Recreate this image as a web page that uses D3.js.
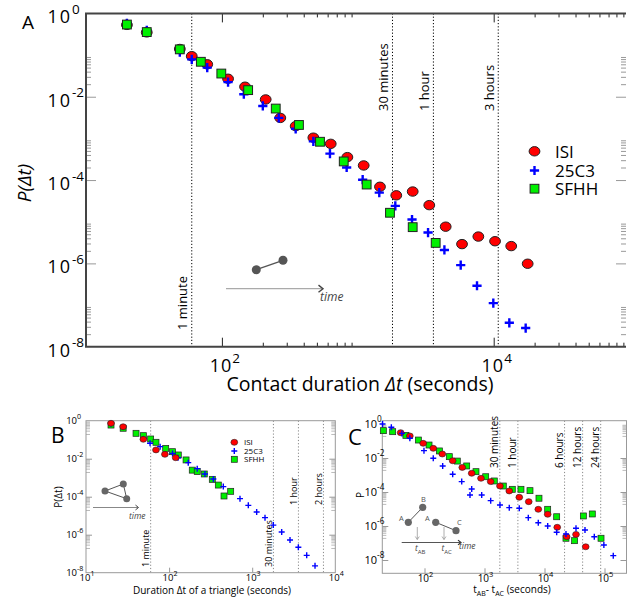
<!doctype html>
<html lang="en">
<head>
<meta charset="utf-8">
<title>Contact and triangle durations</title>
<style>
body { margin: 0; background: #fff; }
svg text { font-family: "Open Sans", "DejaVu Sans", sans-serif; }
</style>
</head>
<body>
<svg id="fig" width="627" height="605"></svg>
<script src="https://d3js.org/d3.v7.min.js"></script>
<script>
// ---- panel A: contact durations (seconds) and P(dt)
var aIsiT = [20, 28, 49, 60, 78, 111, 148, 210, 269, 349, 471, 632, 838, 1105, 1456, 1919, 2535, 3357, 4433, 5847, 7709, 10230, 13460, 17780];
var aIsiP = [0.53, 0.35, 0.14, 0.094, 0.060, 0.027, 0.0174, 0.0086, 0.0031, 0.00197, 0.00104, 7.4e-4, 3.55e-4, 2.24e-4, 6.9e-5, 4.3e-5, 5.3e-5, 2.5e-5, 7.6e-6, 2.9e-6, 4.4e-6, 3.4e-6, 2.6e-6, 9.8e-7];
var a25T = [20, 28, 49, 60, 78, 111, 145, 200, 262, 349, 471, 624, 828, 1086, 1439, 1888, 2506, 3288, 4338, 5718, 7536, 9935, 13030, 17190];
var a25P = [0.58, 0.39, 0.118, 0.079, 0.050, 0.0224, 0.0115, 0.0060, 0.0031, 0.0017, 8.5e-4, 4.3e-4, 2.0e-4, 1.02e-4, 5.0e-5, 2.4e-5, 1.13e-5, 5.5e-6, 2.1e-6, 9.1e-7, 2.9e-7, 1.11e-7, 3.75e-8, 2.8e-8];
var aSfT = [20, 28, 49, 70, 99, 156, 249, 369, 527, 788, 1162, 1725, 2535, 3742];
var aSfP = [0.54, 0.356, 0.137, 0.069, 0.036, 0.0144, 0.0052, 0.0021, 8.3e-4, 2.8e-4, 7.8e-5, 1.64e-5, 7.4e-6, 3.1e-6];
var aLineT = [60, 1800, 3600, 10800];
var aLineLabels = ["1 minute", "30 minutes", "1 hour", "3 hours"];

// ---- panel B: triangle durations
var bIsiT = [20, 28, 49, 69.5, 89, 120];
var bIsiP = [0.73, 0.48, 0.105, 0.029, 0.017, 0.0113];
var b25T = [20, 28, 49, 59, 78, 110, 128, 170, 218, 270, 341, 449, 713, 898, 1132, 1426, 1795, 2264, 2851, 3592, 4527, 5701];
var b25P = [0.70, 0.47, 0.11, 0.065, 0.043, 0.019, 0.0113, 0.0062, 0.0030, 0.00157, 8.6e-4, 3.4e-4, 7.9e-5, 3.5e-5, 1.57e-5, 7.9e-6, 3.2e-6, 1.39e-6, 5.3e-7, 2.2e-7, 8.2e-8, 2.3e-8];
var bSfT = [20, 28, 40, 49, 60, 69.5, 91, 110, 129, 160, 190, 218, 265, 331, 391, 458, 551];
var bSfP = [0.59, 0.40, 0.217, 0.163, 0.109, 0.073, 0.035, 0.0234, 0.0157, 0.0086, 0.0025, 0.0021, 0.00157, 8.2e-4, 4.1e-4, 1.09e-4, 1.92e-4];
var bLineT = [60, 1800, 3600, 7200];
var bLineLabels = ["1 minute", "30 minutes", "1 hour", "2 hours"];

// ---- panel C: t_AB - t_AC
var cIsiT = [40, 57, 95, 140, 198, 295, 426, 612, 874, 1268, 1811, 2588, 3800, 5460, 7880, 11300, 16300, 23400, 33500, 48600];
var cIsiP = [0.31, 0.197, 0.073, 0.037, 0.0172, 0.0069, 0.0028, 0.00126, 6.4e-4, 4.1e-4, 2.25e-4, 1.15e-4, 4.9e-5, 2.7e-5, 9.6e-6, 4.9e-6, 8.4e-7, 2.35e-7, 3.2e-7, 6.0e-8];
var c25T = [20, 28, 42, 57, 98, 140, 201, 295, 417, 612, 573, 898, 1268, 1811, 2588, 3800, 5370, 7880, 11300, 15960, 22800, 33500, 47300, 67600, 97600, 140000];
var c25P = [1.0, 0.64, 0.28, 0.144, 0.027, 0.0096, 0.0034, 0.0011, 4.1e-4, 1.5e-4, 6.6e-5, 6.6e-5, 3.1e-5, 1.73e-5, 1.2e-5, 1.1e-5, 3.1e-6, 1.56e-6, 1.0e-6, 4.3e-7, 3.4e-7, 7.3e-7, 5.8e-7, 2.35e-7, 7.6e-8, 1.8e-8];
var cSfT = [20.6, 29.5, 49, 79, 119, 177, 259, 352, 505, 721, 1047, 1456, 2057, 2906, 4052, 5730, 8090, 11300, 15960, 22800, 31800, 44400, 62600, 87500];
var cSfP = [0.405, 0.353, 0.215, 0.114, 0.058, 0.026, 0.012, 0.0066, 0.0034, 0.00157, 7.9e-4, 4.45e-4, 2.25e-4, 1.44e-4, 1.44e-4, 1.2e-4, 4.3e-5, 9.6e-6, 3.5e-6, 1.9e-7, 1.37e-7, 3.9e-6, 5.1e-6, 1.9e-7];
var cLineT = [1800, 3600, 21600, 43200, 86400];
var cLineLabels = ["30 minutes", "1 hour", "6 hours", "12 hours", "24 hours"];

var seriesNames = ["ISI", "25C3", "SFHH"];

var svg = d3.select("#fig");

var xA = d3.scaleLog().domain([10, 1e5]).range([86, 629.6]);
var yA = d3.scaleLog().domain([1, 1e-8]).range([13.4, 346.7]);
var xB = d3.scaleLog().domain([10, 1e4]).range([86, 335.3]);
var yB = d3.scaleLog().domain([1, 1e-8]).range([420.7, 572.7]);
var xC = d3.scaleLog().domain([100, 1e5]).range([424.5, 604.5]);
var yC = d3.scaleLog().domain([1, 1e-8]).range([424, 560]);

function zip(t, p) { return t.map(function(d, i) { return [d, p[i]]; }); }

function minors(decades) {
  var out = [];
  decades.forEach(function(d) { for (var k = 2; k <= 9; k++) out.push(k * d); });
  return out;
}

function ticks(g, axis, color) {
  g.call(axis);
  g.select(".domain").remove();
  g.selectAll("line").attr("stroke", color);
  g.selectAll("text").remove();
}

function frame(x0, y0, x1, y1, color, w) {
  svg.append("rect").attr("x", x0).attr("y", y0).attr("width", x1 - x0).attr("height", y1 - y0)
    .attr("fill", "none").attr("stroke", color).attr("stroke-width", w);
}

function yPow(x, y, exp, fs, dySup, ls) {
  svg.append("text").attr("x", x).attr("y", y).attr("text-anchor", "end")
    .attr("font-size", fs).attr("letter-spacing", ls || 0).text("10");
  svg.append("text").attr("x", x).attr("y", y - dySup).attr("font-size", fs * 0.75).text(exp);
}

function xPow(x, y, exp, fs, ls) {
  var t = svg.append("text").attr("x", x).attr("y", y).attr("text-anchor", "middle").attr("font-size", fs);
  t.append("tspan").attr("letter-spacing", ls || 0).text("10");
  t.append("tspan").attr("dy", -fs * 0.5).attr("font-size", fs * 0.75).text(exp);
}

function circles(data, x, y, rx, ry, sw) {
  svg.append("g").selectAll("ellipse").data(data).join("ellipse")
    .attr("cx", function(d) { return x(d[0]); }).attr("cy", function(d) { return y(d[1]); })
    .attr("rx", rx).attr("ry", ry).attr("fill", "#ff0000").attr("stroke", "#222").attr("stroke-width", sw);
}
function pluses(data, x, y, s, sw) {
  svg.append("g").selectAll("path").data(data).join("path")
    .attr("transform", function(d) { return "translate(" + x(d[0]) + "," + y(d[1]) + ")"; })
    .attr("d", "M" + (-s) + ",0H" + s + "M0," + (-s) + "V" + s)
    .attr("stroke", "#0000ff").attr("stroke-width", sw).attr("fill", "none");
}
function squares(data, x, y, s, sw) {
  svg.append("g").selectAll("rect").data(data).join("rect")
    .attr("x", function(d) { return x(d[0]) - s / 2; }).attr("y", function(d) { return y(d[1]) - s / 2; })
    .attr("width", s).attr("height", s).attr("fill", "#00f000").attr("stroke", "#222").attr("stroke-width", sw);
}

function vlines(vals, labels, x, y0, y1, color, fs, off, bottoms) {
  var g = svg.append("g");
  vals.forEach(function(v, i) {
    g.append("line").attr("x1", x(v)).attr("x2", x(v)).attr("y1", y0).attr("y2", y1)
      .attr("stroke", color).attr("stroke-width", 1).attr("stroke-dasharray", "1.2,2");
    g.append("text").attr("transform", "translate(" + (x(v) - off) + "," + bottoms[i] + ") rotate(-90)")
      .attr("font-size", fs).text(labels[i]);
  });
}

function arrowHead(x, y, s, color, w) {
  svg.append("path").attr("d", "M" + (x - s) + "," + (y - s * 0.8) + "L" + x + "," + y + "L" + (x - s) + "," + (y + s * 0.8))
    .attr("fill", "none").attr("stroke", color).attr("stroke-width", w);
}
function vArrow(x, y0, y1) {
  svg.append("line").attr("x1", x).attr("x2", x).attr("y1", y0).attr("y2", y1).attr("stroke", "#999").attr("stroke-width", 0.8);
  svg.append("path").attr("d", "M" + (x - 2) + "," + (y1 - 3) + "L" + x + "," + y1 + "L" + (x + 2) + "," + (y1 - 3))
    .attr("fill", "none").attr("stroke", "#999").attr("stroke-width", 0.8);
}

// ================= Panel A =================
(function() {
  var top = yA(1), bot = yA(1e-8), left = xA(10), right = 626;
  vlines(aLineT, aLineLabels, xA, top, bot, "#000", 13, 4.5, [330, 111, 111, 111]);

  ticks(svg.append("g").attr("transform", "translate(0," + bot + ")"),
    d3.axisBottom(xA).tickValues(minors([100, 10000])).tickSize(-4).tickFormat(""), "#222");
  ticks(svg.append("g").attr("transform", "translate(0," + bot + ")"),
    d3.axisBottom(xA).tickValues([100, 10000]).tickSize(-9).tickFormat(""), "#222");
  ticks(svg.append("g").attr("transform", "translate(0," + top + ")"),
    d3.axisTop(xA).tickValues(minors([100, 10000])).tickSize(-4).tickFormat(""), "#222");
  ticks(svg.append("g").attr("transform", "translate(0," + top + ")"),
    d3.axisTop(xA).tickValues([100, 10000]).tickSize(-9).tickFormat(""), "#222");
  [left, right].forEach(function(xx, i) {
    var ax = i === 0 ? d3.axisLeft(yA) : d3.axisRight(yA);
    ticks(svg.append("g").attr("transform", "translate(" + xx + ",0)"),
      ax.tickValues(minors([1e-2, 1e-4, 1e-6, 1e-8])).tickSize(-5).tickFormat(""), "#999");
    ticks(svg.append("g").attr("transform", "translate(" + xx + ",0)"),
      ax.tickValues([1e-2, 1e-4, 1e-6]).tickSize(-10).tickFormat(""), "#999");
  });
  svg.append("path").attr("d", "M" + right + "," + top + "H" + left + "V" + bot + "H" + right)
    .attr("fill", "none").attr("stroke", "#444").attr("stroke-width", 2);

  circles(zip(aIsiT, aIsiP), xA, yA, 5.4, 4.7, 1);
  pluses(zip(a25T, a25P), xA, yA, 4.6, 2.4);
  squares(zip(aSfT, aSfP), xA, yA, 8.8, 1);

  [0, -2, -4, -6, -8].forEach(function(e) {
    yPow(72, yA(Math.pow(10, e)) + 10, e === 0 ? "0" : String(e), 18, 9.5, 2);
  });
  xPow(xA(100) + 3, 372, "2", 18, 1);
  xPow(xA(10000) + 3, 372, "4", 18, 1);

  var xl = svg.append("text").attr("x", 360).attr("y", 391).attr("text-anchor", "middle").attr("font-size", 19.5);
  xl.append("tspan").text("Contact duration ");
  xl.append("tspan").attr("font-style", "italic").text("\u0394t");
  xl.append("tspan").text(" (seconds)");
  svg.append("text").attr("transform", "translate(31,183) rotate(-90)").attr("text-anchor", "middle")
    .attr("font-size", 19).attr("font-style", "italic").text("P(\u0394t)");
  svg.append("text").attr("x", 22).attr("y", 29).attr("font-size", 19).text("A");

  // legend
  var lx = 534.5, ly = [151.3, 170.5, 188.7];
  circles([[xA.invert(lx), yA.invert(ly[0])]], xA, yA, 5.4, 4.7, 1);
  pluses([[xA.invert(lx), yA.invert(ly[1])]], xA, yA, 4.6, 2.4);
  squares([[xA.invert(lx), yA.invert(ly[2])]], xA, yA, 8.8, 1);
  seriesNames.forEach(function(n, i) {
    svg.append("text").attr("x", 555).attr("y", ly[i] + 6.5).attr("font-size", 17).text(n);
  });

  // inset: contact
  svg.append("line").attr("x1", 256.3).attr("y1", 269.7).attr("x2", 283).attr("y2", 260.3).attr("stroke", "#555").attr("stroke-width", 1.4);
  svg.append("circle").attr("cx", 256.3).attr("cy", 269.7).attr("r", 4.5).attr("fill", "#555");
  svg.append("circle").attr("cx", 283).attr("cy", 260.3).attr("r", 4.5).attr("fill", "#555");
  svg.append("line").attr("x1", 226).attr("y1", 288.7).attr("x2", 322).attr("y2", 288.7).attr("stroke", "#aaa").attr("stroke-width", 1.2);
  arrowHead(323, 288.7, 4.5, "#444", 1.4);
  svg.append("text").attr("x", 320).attr("y", 300.5).attr("font-size", 12).attr("font-style", "italic").attr("fill", "#444").text("time");
})();

// ================= Panel B =================
(function() {
  var top = yB(1), bot = yB(1e-8), left = xB(10), right = xB(1e4);
  vlines(bLineT, bLineLabels, xB, top, bot, "#888", 9, 1.5, [567, 567, 505, 505]);
  [left, right].forEach(function(xx, i) {
    var ax = i === 0 ? d3.axisLeft(yB) : d3.axisRight(yB);
    ticks(svg.append("g").attr("transform", "translate(" + xx + ",0)"),
      ax.tickValues(minors([1e-1, 1e-3, 1e-5, 1e-7])).tickSize(-4).tickFormat(""), "#bbb");
    ticks(svg.append("g").attr("transform", "translate(" + xx + ",0)"),
      ax.tickValues([1e-2, 1e-4, 1e-6]).tickSize(-6).tickFormat(""), "#999");
  });
  ticks(svg.append("g").attr("transform", "translate(0," + bot + ")"),
    d3.axisBottom(xB).tickValues([100, 1000]).tickSize(-5).tickFormat(""), "#999");
  frame(left, top, right, bot, "#999", 1);

  squares(zip(bSfT, bSfP), xB, yB, 6, 0.7);
  pluses(zip(b25T, b25P), xB, yB, 3, 1.4);
  circles(zip(bIsiT, bIsiP), xB, yB, 3.4, 3, 0.6);

  [0, -2, -4, -6, -8].forEach(function(e) {
    yPow(77, yB(Math.pow(10, e)) + 3.5, e === 0 ? "0" : String(e), 9.5, 5);
  });
  [1, 2, 3, 4].forEach(function(e) { xPow(xB(Math.pow(10, e)) + 1, 581, String(e), 9.5); });

  var xl = svg.append("text").attr("x", 212).attr("y", 594).attr("text-anchor", "middle").attr("font-size", 10);
  xl.append("tspan").text("Duration \u0394t of a triangle (seconds)");
  svg.append("text").attr("transform", "translate(61.5,497) rotate(-90)").attr("text-anchor", "middle")
    .attr("font-size", 10).text("P(\u0394t)");
  svg.append("text").attr("x", 51).attr("y", 443).attr("font-size", 21).text("B");

  var lx = 234.3, ly = [442.3, 451, 459.3];
  circles([[xB.invert(lx), yB.invert(ly[0])]], xB, yB, 3.4, 3, 0.6);
  pluses([[xB.invert(lx), yB.invert(ly[1])]], xB, yB, 3, 1.4);
  squares([[xB.invert(lx), yB.invert(ly[2])]], xB, yB, 6, 0.7);
  seriesNames.forEach(function(n, i) {
    svg.append("text").attr("x", 244).attr("y", ly[i] + 3).attr("font-size", 8).text(n);
  });

  // inset: triangle
  var pts = [[105, 491], [123.3, 484], [126.7, 498.7]];
  svg.append("path").attr("d", "M" + pts.join("L") + "Z").attr("fill", "none").attr("stroke", "#555").attr("stroke-width", 1);
  pts.forEach(function(p) { svg.append("circle").attr("cx", p[0]).attr("cy", p[1]).attr("r", 3.5).attr("fill", "#666"); });
  svg.append("line").attr("x1", 93).attr("y1", 507.5).attr("x2", 138).attr("y2", 507.5).attr("stroke", "#888").attr("stroke-width", 1);
  arrowHead(138.5, 507.5, 3, "#444", 1);
  svg.append("text").attr("x", 129).attr("y", 519).attr("font-size", 8.5).attr("font-style", "italic").attr("fill", "#444").text("time");
})();

// ================= Panel C =================
(function() {
  var top = 420.7, bot = 573.3, left = 382.3, right = 626.5;
  vlines(cLineT, cLineLabels, xC, top, bot, "#888", 10, 1.5, [468, 468, 468, 468, 468]);
  [left, right].forEach(function(xx, i) {
    var ax = i === 0 ? d3.axisLeft(yC) : d3.axisRight(yC);
    ticks(svg.append("g").attr("transform", "translate(" + xx + ",0)"),
      ax.tickValues(minors([1e-1, 1e-3, 1e-5, 1e-7])).tickSize(-4).tickFormat(""), "#bbb");
    ticks(svg.append("g").attr("transform", "translate(" + xx + ",0)"),
      ax.tickValues([1e-2, 1e-4, 1e-6, 1e-8]).tickSize(-6).tickFormat(""), "#999");
  });
  ticks(svg.append("g").attr("transform", "translate(0," + bot + ")"),
    d3.axisBottom(xC).tickValues([100, 1000, 10000, 100000]).tickSize(-5).tickFormat(""), "#999");
  frame(left, top, right, bot, "#999", 1);

  squares(zip(cSfT, cSfP), xC, yC, 6, 0.7);
  circles(zip(cIsiT, cIsiP), xC, yC, 3.4, 3, 0.6);
  pluses(zip(c25T, c25P), xC, yC, 3, 1.4);

  [0, -2, -4, -6, -8].forEach(function(e) {
    yPow(377, yC(Math.pow(10, e)) + 4, e === 0 ? "0" : String(e), 11, 6);
  });
  [2, 3, 4, 5].forEach(function(e) { xPow(xC(Math.pow(10, e)) + 1, 581.5, String(e), 10); });

  var xl = svg.append("text").attr("x", 512).attr("y", 593).attr("text-anchor", "middle").attr("font-size", 10);
  xl.append("tspan").text("t");
  xl.append("tspan").attr("dy", 3).attr("font-size", 7).text("AB");
  xl.append("tspan").attr("dy", -3).text("- t");
  xl.append("tspan").attr("dy", 3).attr("font-size", 7).text("AC");
  xl.append("tspan").attr("dy", -3).text(" (seconds)");
  svg.append("text").attr("transform", "translate(363.5,495) rotate(-90)").attr("text-anchor", "middle")
    .attr("font-size", 10).text("P");
  svg.append("text").attr("x", 348).attr("y", 445).attr("font-size", 22).text("C");

  // inset: A-B then A-C contacts
  svg.append("line").attr("x1", 408.3).attr("y1", 522.3).attr("x2", 422.7).attr("y2", 507.3).attr("stroke", "#555").attr("stroke-width", 1);
  svg.append("line").attr("x1", 435.7).attr("y1", 522.3).attr("x2", 456).attr("y2", 530.7).attr("stroke", "#555").attr("stroke-width", 1);
  [[408.3, 522.3], [422.7, 507.3], [435.7, 522.3], [456, 530.7]].forEach(function(p) {
    svg.append("circle").attr("cx", p[0]).attr("cy", p[1]).attr("r", 3.6).attr("fill", "#666");
  });
  [["A", 399, 521], ["B", 421, 502], ["A", 425, 521], ["C", 457, 525]].forEach(function(l) {
    svg.append("text").attr("x", l[1]).attr("y", l[2]).attr("font-size", 7.5).attr("fill", "#555").text(l[0]);
  });
  vArrow(417.3, 527, 539.5);
  vArrow(444, 527, 539.5);
  svg.append("line").attr("x1", 401.7).attr("y1", 542.5).attr("x2", 460).attr("y2", 542.5).attr("stroke", "#555").attr("stroke-width", 1.2);
  arrowHead(461, 542.5, 3, "#333", 1.2);
  [["AB", 415], ["AC", 441.5]].forEach(function(l) {
    var t = svg.append("text").attr("x", l[1]).attr("y", 551).attr("font-size", 8.5).attr("font-style", "italic").attr("fill", "#444");
    t.append("tspan").text("t");
    t.append("tspan").attr("dy", 2.5).attr("font-size", 6).attr("font-style", "normal").text(l[0]);
  });
  svg.append("text").attr("x", 459).attr("y", 549).attr("font-size", 8.5).attr("font-style", "italic").attr("fill", "#444").text("time");
})();
</script>
</body>
</html>
